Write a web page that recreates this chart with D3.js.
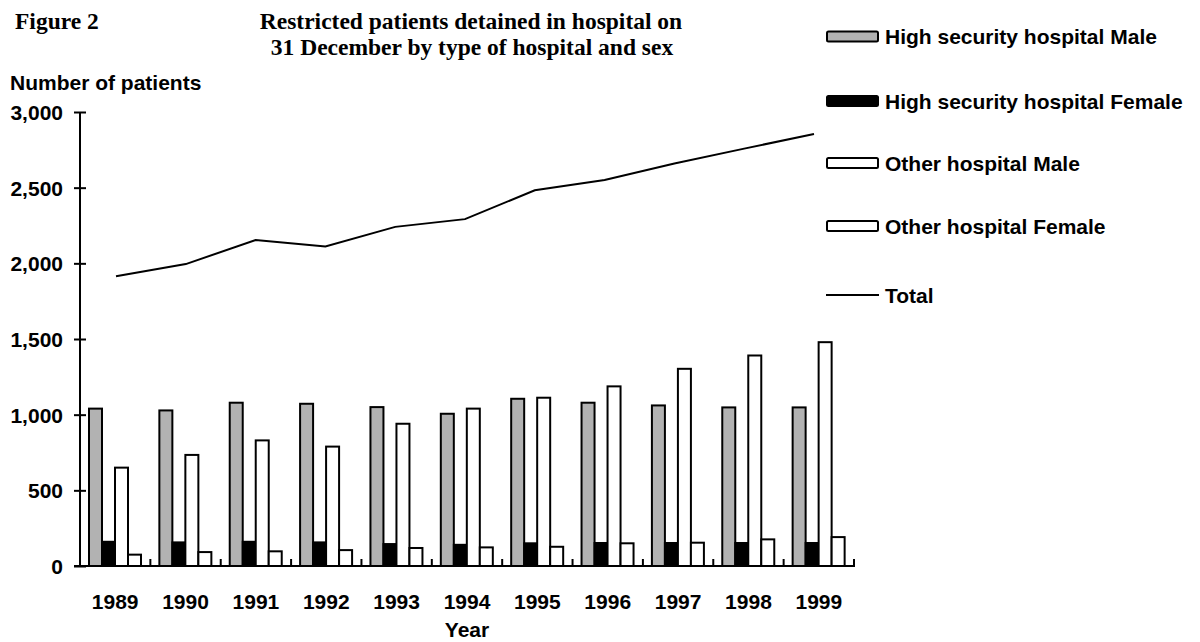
<!DOCTYPE html>
<html lang="en">
<head>
<meta charset="UTF-8">
<style>
  body { margin: 0; background: #fff; }
  svg text { font-family: "Liberation Sans", Arial, sans-serif; font-weight: bold; fill: #000; }
  .serif { font-family: "Liberation Serif", "Times New Roman", serif !important; }
  .bar { stroke: #000; stroke-width: 2; }
</style>
</head>
<body>
<script src="https://d3js.org/d3.v7.min.js"></script>
<script>
var years = ['1989', '1990', '1991', '1992', '1993', '1994', '1995', '1996', '1997', '1998', '1999'];
var hsMale     = [1040, 1028, 1079, 1072, 1050, 1006, 1105, 1079, 1061, 1048, 1048];
var hsFemale   = [160, 156, 160, 156, 145, 140, 150, 152, 152, 152, 152];
var otherMale  = [650, 734, 830, 789, 940, 1040, 1112, 1187, 1303, 1391, 1479];
var otherFemale = [75, 92, 97, 105, 119, 123, 127, 150, 154, 176, 191];
var total      = [1914, 1995, 2154, 2111, 2241, 2292, 2483, 2551, 2660, 2758, 2855];
var yTicks = [0, 500, 1000, 1500, 2000, 2500, 3000];

var seriesNames = ['High security hospital Male', 'High security hospital Female', 'Other hospital Male', 'Other hospital Female'];
var seriesData = [hsMale, hsFemale, otherMale, otherFemale];
var seriesFill = ['#b2b2b2', '#000000', '#ffffff', '#ffffff'];

var svg = d3.select('body').append('svg').attr('width', 1200).attr('height', 642);

var y = d3.scaleLinear().domain([0, 3000]).range([566, 112]);
var x0 = d3.scaleBand().domain(years).range([80, 854]);
var x1 = d3.scaleBand().domain(d3.range(4)).range([9, 61]);
var xLine = d3.scalePoint().domain(years).range([116, 814]);

// titles
svg.append('text').attr('class', 'serif').attr('x', 15).attr('y', 29)
    .style('font-size', '23.5px').text('Figure 2');
svg.append('text').attr('class', 'serif').attr('x', 471).attr('y', 29)
    .attr('text-anchor', 'middle').style('font-size', '23.5px')
    .text('Restricted patients detained in hospital on');
svg.append('text').attr('class', 'serif').attr('x', 472).attr('y', 55)
    .attr('text-anchor', 'middle').style('font-size', '23.5px')
    .text('31 December by type of hospital and sex');

svg.append('text').attr('x', 10).attr('y', 90).style('font-size', '21px').text('Number of patients');

// y axis
var yAxis = svg.append('g').attr('transform', 'translate(80,0)')
    .call(d3.axisLeft(y).tickValues(yTicks).tickFormat(d3.format(',')).tickSize(6).tickPadding(11));
yAxis.select('.domain').attr('d', 'M0,' + y(3000) + 'V' + y(0)).attr('stroke-width', 2);
yAxis.selectAll('.tick line').attr('x1', -6).attr('x2', 6).attr('stroke-width', 2);
yAxis.selectAll('.tick text').attr('dy', '0.36em').style('font-size', '21px')
    .style('font-family', '"Liberation Sans", Arial, sans-serif').style('font-weight', 'bold');

// bars
var groups = svg.selectAll('g.year').data(years).enter().append('g')
    .attr('class', 'year')
    .attr('transform', function(d) { return 'translate(' + x0(d) + ',0)'; });

groups.selectAll('rect').data(function(d, i) {
        return seriesData.map(function(s, k) { return { k: k, v: s[i] }; });
    }).enter().append('rect')
    .attr('class', 'bar')
    .attr('x', function(d) { return x1(d.k); })
    .attr('width', x1.bandwidth())
    .attr('y', function(d) { return y(d.v); })
    .attr('height', function(d) { return y(0) - y(d.v); })
    .attr('fill', function(d) { return seriesFill[d.k]; });

// x axis
var xAxis = svg.append('g').attr('transform', 'translate(0,' + y(0) + ')');
xAxis.append('line').attr('x1', 74).attr('x2', 855).attr('stroke', '#000').attr('stroke-width', 2);
xAxis.selectAll('line.tk').data(years.concat(['end'])).enter().append('line')
    .attr('class', 'tk')
    .attr('x1', function(d) { return d === 'end' ? 854 : x0(d); })
    .attr('x2', function(d) { return d === 'end' ? 854 : x0(d); })
    .attr('y1', 0).attr('y2', -7)
    .attr('stroke', '#000').attr('stroke-width', 2);
xAxis.selectAll('text.yl').data(years).enter().append('text')
    .attr('class', 'yl')
    .attr('x', function(d) { return x0(d) + x0.bandwidth() / 2; })
    .attr('y', 43).attr('text-anchor', 'middle').style('font-size', '21px')
    .text(function(d) { return d; });
svg.append('text').attr('x', 467).attr('y', 637).attr('text-anchor', 'middle')
    .style('font-size', '21px').text('Year');

// total line
var line = d3.line().x(function(d, i) { return xLine(years[i]); }).y(function(d) { return y(d); });
svg.append('path').datum(total).attr('d', line)
    .attr('fill', 'none').attr('stroke', '#000').attr('stroke-width', 2);

// legend
var legendY = [36.5, 101, 163, 226, 295];
var lg = svg.selectAll('g.lg').data(seriesNames.concat(['Total'])).enter().append('g')
    .attr('class', 'lg')
    .attr('transform', function(d, i) { return 'translate(826,' + legendY[i] + ')'; });
lg.filter(function(d, i) { return i < 4; }).append('rect')
    .attr('x', 1).attr('y', -5).attr('width', 51).attr('height', 10).attr('rx', 1.5)
    .attr('fill', function(d, i) { return seriesFill[i]; })
    .attr('stroke', '#000').attr('stroke-width', 2);
lg.filter(function(d, i) { return i === 4; }).append('line')
    .attr('x1', 0).attr('x2', 53).attr('y1', 0).attr('y2', 0)
    .attr('stroke', '#000').attr('stroke-width', 2);
lg.append('text').attr('x', 59).attr('y', 7.5).style('font-size', '21px')
    .text(function(d) { return d; });
</script>
</body>
</html>
